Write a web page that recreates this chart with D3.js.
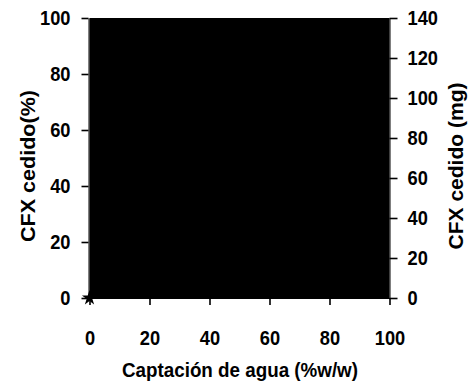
<!DOCTYPE html>
<html>
<head>
<meta charset="utf-8">
<script src="https://cdnjs.cloudflare.com/ajax/libs/d3/7.8.5/d3.min.js"></script>
<style>
  body { margin: 0; background: #fff; }
  text { font-family: "Liberation Sans", Arial, sans-serif; font-weight: bold; }
</style>
</head>
<body>
<svg id="chart" width="472" height="385"></svg>
<script>
// data
const xTicks = [0, 20, 40, 60, 80, 100];
const leftTicks = [0, 20, 40, 60, 80, 100];
const rightTicks = [0, 20, 40, 60, 80, 100, 120, 140];
const xDomain = [0, 100];
const leftDomain = [0, 100];
const rightDomain = [0, 140];
// the filled block that covers the plot area
const blockX = [0, 100];
const blockY = [0, 100];
// lone marker at the origin
const pointX = [0];
const pointY = [0];

const svg = d3.select("#chart");
const m = {left: 89.5, right: 389.5, top: 18, bottom: 298};
const squeeze = 0.87; // narrow look of the original font

let x = d3.scaleLinear().domain(xDomain).range([m.left, m.right]);
let yL = d3.scaleLinear().domain(leftDomain).range([m.bottom, m.top]);
let yR = d3.scaleLinear().domain(rightDomain).range([m.bottom, m.top]);

svg.append("rect")
    .attr("x", x(blockX[0]))
    .attr("y", yL(blockY[1]))
    .attr("width", x(blockX[1]) - x(blockX[0]))
    .attr("height", yL(blockY[0]) - yL(blockY[1]))
    .attr("fill", "#000");

function styleAxis(g) {
    g.select(".domain").attr("stroke", "#000").attr("stroke-width", 1);
    g.selectAll(".tick line").attr("stroke", "#000").attr("stroke-width", 1.6);
    g.selectAll(".tick text")
        .attr("fill", "#000")
        .style("font-size", "21px")
        .attr("x", function() { return (+d3.select(this).attr("x") || 0) / squeeze; })
        .attr("transform", `scale(${squeeze},1)`);
}

svg.append("g")
    .attr("transform", `translate(0,${m.bottom})`)
    .call(d3.axisBottom(x).tickValues(xTicks).tickSize(7).tickSizeOuter(0).tickPadding(25))
    .call(styleAxis);

svg.append("g")
    .attr("transform", `translate(${m.left - 1},0)`)
    .call(d3.axisLeft(yL).tickValues(leftTicks).tickSize(7).tickSizeOuter(0).tickPadding(11))
    .call(styleAxis);

svg.append("g")
    .attr("transform", `translate(${m.right},0)`)
    .call(d3.axisRight(yR).tickValues(rightTicks).tickSize(8).tickSizeOuter(0).tickPadding(10))
    .call(styleAxis);

svg.append("g")
    .selectAll("path")
    .data(pointX.map((d, i) => [d, pointY[i]]))
    .enter()
    .append("path")
    .attr("transform", d => `translate(${x(d[0])},${yL(d[1])})`)
    .attr("d", d3.symbol().type(d3.symbolStar).size(70))
    .attr("fill", "#000");

svg.append("text")
    .attr("x", 240)
    .attr("y", 377)
    .attr("text-anchor", "middle")
    .attr("textLength", 236)
    .attr("lengthAdjust", "spacingAndGlyphs")
    .style("font-size", "20px")
    .text("Captación de agua (%w/w)");

svg.append("text")
    .attr("transform", "translate(35,166) rotate(-90)")
    .attr("text-anchor", "middle")
    .attr("textLength", 152)
    .attr("lengthAdjust", "spacingAndGlyphs")
    .style("font-size", "20px")
    .text("CFX cedido(%)");

svg.append("text")
    .attr("transform", "translate(463,166) rotate(-90)")
    .attr("text-anchor", "middle")
    .attr("textLength", 167)
    .attr("lengthAdjust", "spacingAndGlyphs")
    .style("font-size", "20px")
    .text("CFX cedido (mg)");
</script>
</body>
</html>
